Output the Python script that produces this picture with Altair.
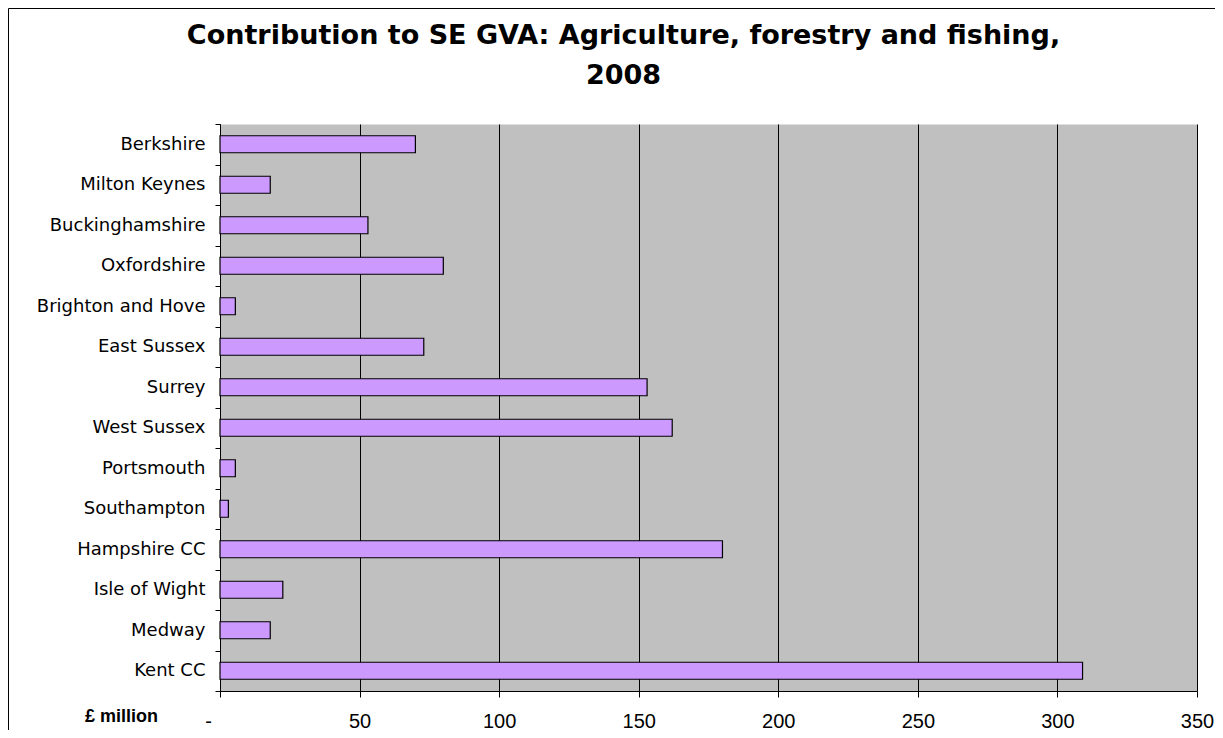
import altair as alt
import pandas as pd

regions = ["Berkshire", "Milton Keynes", "Buckinghamshire", "Oxfordshire",
           "Brighton and Hove", "East Sussex", "Surrey", "West Sussex",
           "Portsmouth", "Southampton", "Hampshire CC", "Isle of Wight",
           "Medway", "Kent CC"]
gva = [70, 18, 53, 80, 5.5, 73, 153, 162, 5.5, 3, 180, 22.5, 18, 309]
x_ticks = [0, 50, 100, 150, 200, 250, 300, 350]
title_lines = ["Contribution to SE GVA: Agriculture, forestry and fishing,", "2008"]
x_title = "£ million"

df = pd.DataFrame({"region": regions, "gva": gva})

bars = alt.Chart(df).mark_bar(
    color="#CC99FF", stroke="#000000", strokeWidth=1.2,
    height=alt.RelativeBandSize(0.42),
).encode(
    x=alt.X(
        "gva:Q",
        scale=alt.Scale(domain=[0, 350], nice=False, zero=True),
        axis=alt.Axis(
            values=x_ticks,
            labelExpr="datum.value == 0 ? '-' : datum.label",
            labelOffset={"condition": {"test": "datum.value == 0", "value": -12}, "value": 0},
            labelFlush=False,
            labelFont="Liberation Sans", labelFontSize=20, labelColor="#000000",
            labelPadding=14, tickSize=6, tickColor="#000000", domainColor="#000000",
            grid=True, gridColor="#000000", gridWidth=1, gridOpacity=1,
            title=x_title, titleFont="Liberation Sans", titleFontSize=18,
            titleFontWeight="bold", titleColor="#000000",
            titleX=-99, titleY=25, titleAlign="center", titleBaseline="middle",
            titleAngle=0,
        ),
    ),
    y=alt.Y(
        "region:N", sort=regions,
        scale=alt.Scale(paddingInner=0, paddingOuter=0),
        axis=alt.Axis(
            title=None, labelFont="DejaVu Sans", labelFontSize=18,
            labelColor="#000000", labelPadding=10, tickSize=5,
            tickColor="#000000", domainColor="#000000", tickBand="extent",
            grid=False,
        ),
    ),
)

frame_df = pd.DataFrame({"k": [0]})
frame_left = alt.Chart(frame_df).mark_rule(color="#000000", strokeWidth=1).encode(
    x=alt.value(-211.5), y=alt.value(-115.5), y2=alt.value(700)
)
frame_top = alt.Chart(frame_df).mark_rule(color="#000000", strokeWidth=1).encode(
    x=alt.value(-211.5), x2=alt.value(1100), y=alt.value(-115.5)
)

chart = alt.layer(bars, frame_left, frame_top).properties(
    width=977,
    height=567,
    autosize=alt.AutoSizeParams(type="none"),
    padding={"left": 212, "top": 116, "right": 18, "bottom": 39},
    title=alt.TitleParams(
        text=title_lines, font="DejaVu Sans", fontSize=27, fontWeight="bold",
        color="#000000", anchor="middle", lineHeight=40, offset=-82, dx=-85,
    ),
).configure(background="#FFFFFF").configure_view(fill="#C0C0C0", stroke="transparent")

chart.save("out.html", embed_options={"renderer": "svg", "actions": False})
